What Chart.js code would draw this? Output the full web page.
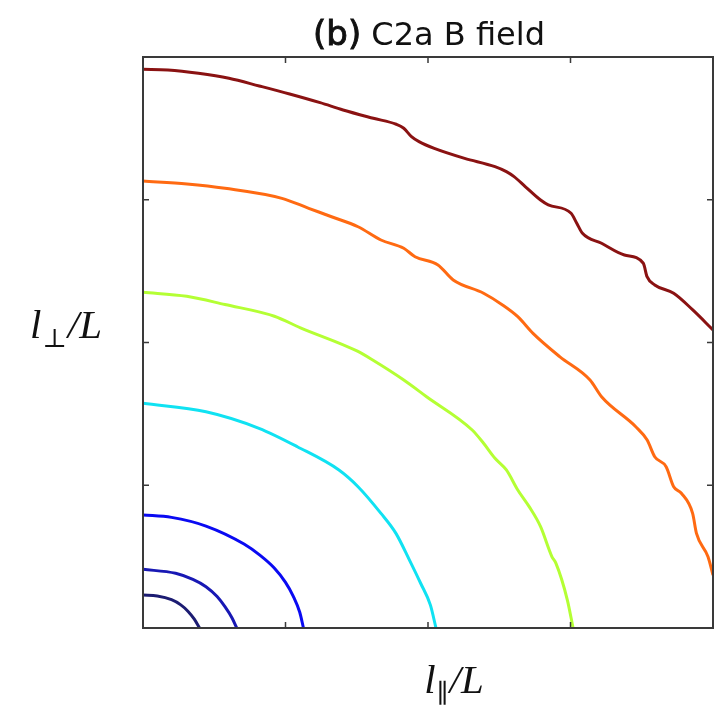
<!DOCTYPE html>
<html>
<head>
<meta charset="utf-8">
<script src="https://cdn.jsdelivr.net/npm/chart.js@4.4.1/dist/chart.umd.min.js"></script>
<style>
  html, body { margin: 0; padding: 0; background: #fff; }
  #wrap { width: 728px; height: 708px; }
</style>
</head>
<body>
<div id="wrap"><canvas id="c" width="728" height="708"></canvas></div>
<script>
// tick positions (no labels are printed in the figure)
const tickValues = [0, 1, 2, 3, 4];

// contour levels, innermost first: [l_par, l_perp] pairs
const level1 = [[0, 0.231], [0.1, 0.224], [0.2, 0.198], [0.265, 0.162], [0.315, 0.118], [0.36, 0.062], [0.397, 0]];
const level2 = [[0, 0.411], [0.229, 0.383], [0.35, 0.34], [0.442, 0.289], [0.52, 0.22], [0.575, 0.149], [0.625, 0.07], [0.658, 0]];
const level3 = [[0, 0.792], [0.2, 0.775], [0.442, 0.714], [0.709, 0.588], [0.82, 0.51],
                [0.921, 0.420], [1.0, 0.32], [1.054, 0.224], [1.1, 0.11], [1.126, 0]];
const level4 = [[0, 1.574], [0.442, 1.515], [0.814, 1.399], [1.083, 1.270], [1.375, 1.107],
                [1.509, 0.990], [1.670, 0.803], [1.775, 0.663], [1.87, 0.476], [1.95, 0.31],
                [2.017, 0.16], [2.056, 0]];
const level5 = [[0, 2.352], [0.307, 2.324], [0.575, 2.266], [0.922, 2.184], [1.105, 2.103],
                [1.505, 1.939], [1.612, 1.877], [1.830, 1.737], [1.990, 1.620], [2.310, 1.387],
                [2.390, 1.294], [2.470, 1.189], [2.550, 1.107], [2.630, 0.967], [2.710, 0.850],
                [2.790, 0.710], [2.870, 0.499], [2.898, 0.453], [2.978, 0.196], [3.018, 0]];
const level6 = [[0, 3.131], [0.309, 3.110], [0.575, 3.080], [0.975, 3.010], [1.163, 2.940],
                [1.323, 2.881], [1.509, 2.811], [1.670, 2.718], [1.830, 2.660], [1.909, 2.601],
                [2.070, 2.543], [2.177, 2.438], [2.390, 2.345], [2.523, 2.263], [2.630, 2.181],
                [2.737, 2.064], [2.924, 1.901], [3.137, 1.737], [3.218, 1.620], [3.458, 1.410],
                [3.538, 1.317], [3.591, 1.200], [3.671, 1.130], [3.724, 0.990], [3.778, 0.944],
                [3.857, 0.803], [3.884, 0.663], [3.965, 0.499], [4.0, 0.371]];
const level7 = [[0, 3.914], [0.175, 3.909], [0.389, 3.886], [0.603, 3.851], [0.816, 3.797],
                [1.029, 3.741], [1.243, 3.680], [1.404, 3.629], [1.616, 3.571], [1.777, 3.529],
                [1.830, 3.501], [1.884, 3.442], [1.937, 3.407], [2.044, 3.360], [2.257, 3.290],
                [2.470, 3.232], [2.550, 3.197], [2.604, 3.162], [2.684, 3.091], [2.790, 2.998],
                [2.844, 2.964], [3.004, 2.905], [3.044, 2.835], [3.084, 2.765], [3.218, 2.695],
                [3.378, 2.613], [3.511, 2.555], [3.537, 2.461], [3.591, 2.403], [3.724, 2.345],
                [3.858, 2.228], [4.0, 2.088]];

const levels = [level1, level2, level3, level4, level5, level6, level7];
const levelColors = ['#1c1c72', '#1818b4', '#0a0af2', '#10e2f2', '#b4ff34', '#ff6a12', '#8a1212'];

// frame, inward ticks, title and math-style axis labels
const framePlugin = {
  id: 'frame',
  afterDraw(chart) {
    const ctx = chart.ctx;
    const a = chart.chartArea;
    const xs = chart.scales.x, ys = chart.scales.y;
    ctx.save();
    ctx.strokeStyle = '#3a3a3a';
    ctx.lineWidth = 2;
    ctx.strokeRect(a.left, a.top, a.right - a.left, a.bottom - a.top);
    ctx.lineWidth = 1.5;
    ctx.beginPath();
    tickValues.forEach(v => {
      const px = xs.getPixelForValue(v);
      ctx.moveTo(px, a.bottom); ctx.lineTo(px, a.bottom - 6);
      ctx.moveTo(px, a.top); ctx.lineTo(px, a.top + 6);
      const py = ys.getPixelForValue(v);
      ctx.moveTo(a.left, py); ctx.lineTo(a.left + 6, py);
      ctx.moveTo(a.right, py); ctx.lineTo(a.right - 6, py);
    });
    ctx.stroke();

    // title: "(b)" a touch heavier than the rest
    ctx.fillStyle = '#111';
    ctx.strokeStyle = '#111';
    ctx.textBaseline = 'alphabetic';
    const f1 = '34px "DejaVu Sans"';
    const f2 = '32px "DejaVu Sans"';
    ctx.font = f1; const w1 = ctx.measureText('(b)').width;
    ctx.font = f2; const w2 = ctx.measureText(' C2a B field').width;
    let tx = 429 - (w1 + w2) / 2;
    ctx.font = f1; ctx.fillText('(b)', tx, 45);
    ctx.lineWidth = 0.9; ctx.strokeText('(b)', tx, 45);
    ctx.font = f2; ctx.fillText(' C2a B field', tx + w1, 45);

    // axis labels
    const drawMath = (cx, base, sub) => {
      const fm = 'italic 41px "Liberation Serif"';
      const fs = '26px "DejaVu Serif"';
      ctx.font = fm; const wl = ctx.measureText('l').width;
      ctx.font = fs; const ws = ctx.measureText(sub).width;
      ctx.font = fm; const wr = ctx.measureText('/L').width;
      let x0 = cx - (wl + ws + wr + 2) / 2;
      ctx.font = fm; ctx.fillText('l', x0, base);
      ctx.font = fs; ctx.fillText(sub, x0 + wl + 1, base + 9);
      ctx.font = fm; ctx.fillText('/L', x0 + wl + ws + 2, base);
    };
    drawMath(66, 338, '\u22A5');
    drawMath(454, 693, '\u2225');
    ctx.restore();
  }
};

new Chart(document.getElementById('c'), {
  type: 'scatter',
  data: {
    datasets: levels.map((pts, i) => ({
      data: pts.map(p => ({ x: p[0], y: p[1] })),
      showLine: true,
      borderColor: levelColors[i],
      borderWidth: 3,
      pointRadius: 0,
      cubicInterpolationMode: 'monotone',
      fill: false
    }))
  },
  options: {
    responsive: false,
    animation: false,
    layout: { padding: { left: 143, right: 15, top: 57, bottom: 80 } },
    plugins: { legend: { display: false }, tooltip: { enabled: false }, title: { display: false } },
    scales: {
      x: { type: 'linear', min: 0, max: 4, display: false },
      y: { type: 'linear', min: 0, max: 4, display: false }
    }
  },
  plugins: [framePlugin]
});
</script>
</body>
</html>
